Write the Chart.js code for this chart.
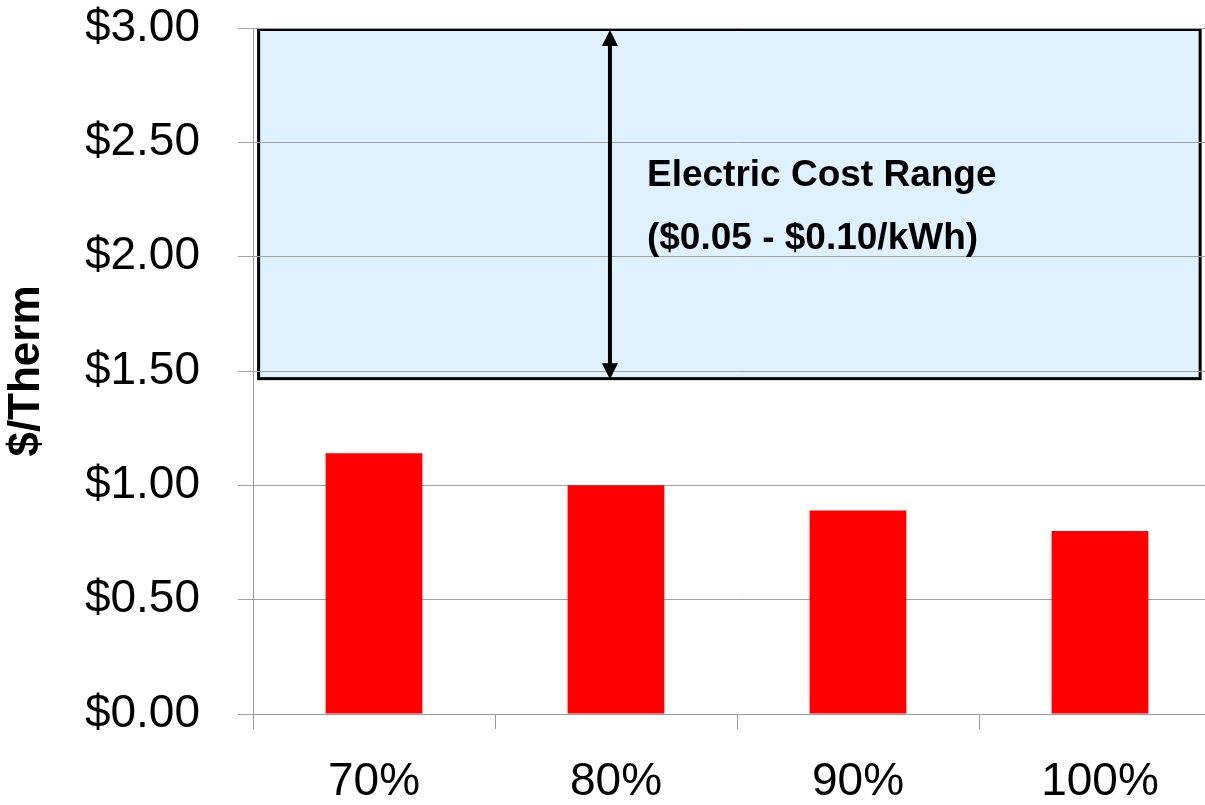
<!DOCTYPE html>
<html>
<head>
<meta charset="utf-8">
<script src="https://cdn.jsdelivr.net/npm/chart.js@4/dist/chart.umd.min.js"></script>
<style>
  html, body { margin: 0; padding: 0; background: #fff; overflow: hidden; }
  #wrap { width: 1221px; height: 805px; }
</style>
</head>
<body>
<div id="wrap"><canvas id="dash" width="1221" height="805"></canvas></div>
<script>
  const categories = ["70%", "80%", "90%", "100%"];
  const costPerTherm = [1.14, 1.0, 0.89, 0.8];
  const electricRange = [1.46, 3.0]; // $/Therm low - high
  const rangeLabel = ["Electric Cost Range", "($0.05 - $0.10/kWh)"];

  const FONT = "'Liberation Sans', Arial, sans-serif";

  // shaded electric range with a double arrow and label
  const rangeBox = {
    id: "rangeBox",
    beforeDraw(chart) {
      const { ctx, scales } = chart;
      const x = scales.x, y = scales.y;
      const left = x.getPixelForValue(-0.483);
      const right = x.getPixelForValue(3.42);
      const top = y.getPixelForValue(electricRange[1]);
      const bottom = y.getPixelForValue(electricRange[0]);
      ctx.save();
      ctx.fillStyle = "#dff0fe";
      ctx.fillRect(left, top, right - left, bottom - top);
      ctx.lineWidth = 3;
      ctx.strokeStyle = "#000";
      ctx.strokeRect(left + 1.5, top + 1.5, right - left - 3, bottom - top - 3);
      ctx.restore();
    },
    afterDraw(chart) {
      const { ctx, scales } = chart;
      const x = scales.x, y = scales.y;
      const ax = x.getPixelForValue(0.975);
      const top = y.getPixelForValue(electricRange[1]) + 2;
      const bottom = y.getPixelForValue(electricRange[0]) - 1;
      ctx.save();
      ctx.strokeStyle = "#000";
      ctx.fillStyle = "#000";
      ctx.lineWidth = 4;
      ctx.beginPath();
      ctx.moveTo(ax, top + 12);
      ctx.lineTo(ax, bottom - 12);
      ctx.stroke();
      ctx.beginPath();
      ctx.moveTo(ax, top);
      ctx.lineTo(ax - 8, top + 16);
      ctx.lineTo(ax + 8, top + 16);
      ctx.closePath();
      ctx.fill();
      ctx.beginPath();
      ctx.moveTo(ax, bottom);
      ctx.lineTo(ax - 8, bottom - 16);
      ctx.lineTo(ax + 8, bottom - 16);
      ctx.closePath();
      ctx.fill();

      ctx.font = "bold 37px " + FONT;
      ctx.textAlign = "left";
      ctx.textBaseline = "alphabetic";
      const tx = x.getPixelForValue(1.128);
      ctx.fillText(rangeLabel[0], tx, y.getPixelForValue(2.308));
      ctx.fillText(rangeLabel[1], tx, y.getPixelForValue(2.035));
      ctx.restore();
    },
  };

  const dash = document.getElementById("dash");

  new Chart(dash, {
    type: "bar",
    data: {
      labels: categories,
      datasets: [
        {
          data: costPerTherm,
          backgroundColor: "#ff0000",
          borderWidth: 0,
          barPercentage: 0.4,
          categoryPercentage: 1.0,
        },
      ],
    },
    options: {
      responsive: false,
      animation: false,
      layout: { padding: { top: 28, right: 0, left: 0, bottom: 0 } },
      plugins: {
        legend: { display: false },
        tooltip: { enabled: false },
      },
      scales: {
        x: {
          offset: true,
          grid: {
            display: true,
            offset: true,
            drawOnChartArea: false,
            drawTicks: true,
            tickLength: 15,
            color: "#999999",
          },
          border: { color: "#999999", width: 1 },
          ticks: {
            color: "#000",
            padding: 26,
            font: { family: FONT, size: 46 },
          },
          afterFit(scale) {
            scale.height = 91;
            scale.paddingLeft = 0;
            scale.paddingRight = 0;
          },
        },
        y: {
          min: 0,
          max: 3,
          grid: {
            color: "#a0a0a0",
            tickLength: 15,
          },
          border: { color: "#999999", width: 1 },
          ticks: {
            stepSize: 0.5,
            color: "#000",
            padding: 38,
            font: { family: FONT, size: 46 },
            callback: (v) => "$" + Number(v).toFixed(2),
          },
          title: {
            display: true,
            text: "$/Therm",
            color: "#000",
            padding: { top: 0, bottom: 0 },
            font: { family: FONT, size: 44, weight: "bold" },
          },
          afterFit(scale) {
            scale.width = 253;
            scale.paddingTop = 0;
            scale.paddingBottom = 0;
          },
        },
      },
    },
    plugins: [rangeBox],
  });
</script>
</body>
</html>
